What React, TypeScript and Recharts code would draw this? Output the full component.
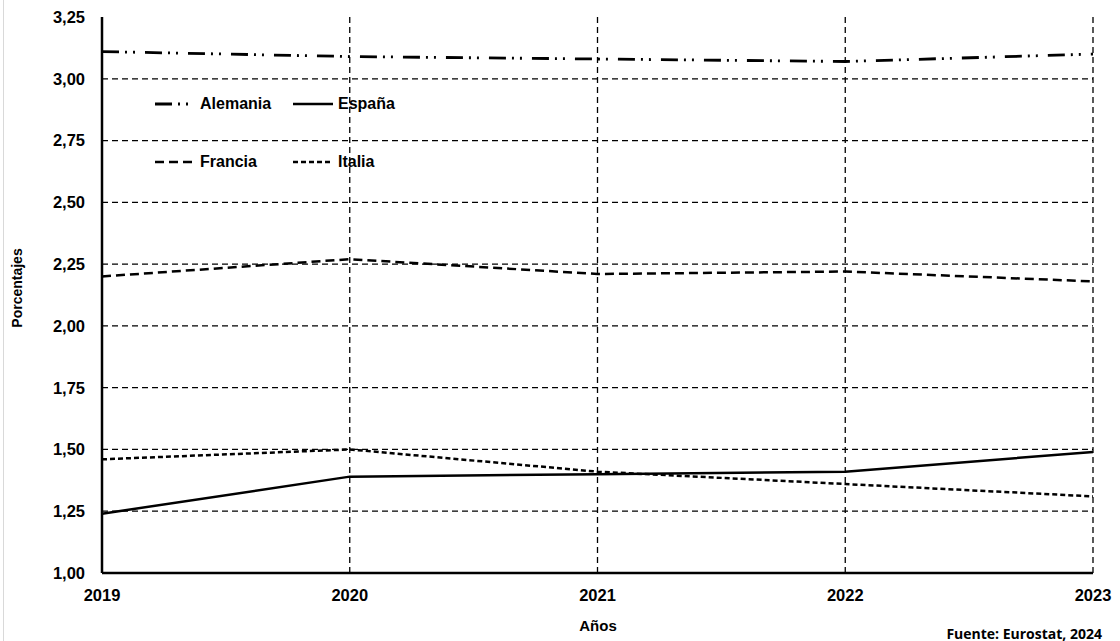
import React from "react";
import { LineChart, Line, XAxis, YAxis, ReferenceLine } from "recharts";

// Gasto en I+D sobre el PIB (%)
const years = [2019, 2020, 2021, 2022, 2023];
const alemania = [3.11, 3.09, 3.08, 3.07, 3.1];
const espana = [1.24, 1.39, 1.4, 1.41, 1.49];
const francia = [2.2, 2.27, 2.21, 2.22, 2.18];
const italia = [1.46, 1.5, 1.41, 1.36, 1.31];

const yTicks = [1, 1.25, 1.5, 1.75, 2, 2.25, 2.5, 2.75, 3, 3.25];
const hGrid = [1.25, 1.5, 1.75, 2, 2.25, 2.5, 2.75, 3];
const vGrid = [2020, 2021, 2022, 2023];

const data = years.map((year, i) => ({
  year,
  Alemania: alemania[i],
  España: espana[i],
  Francia: francia[i],
  Italia: italia[i],
}));

const series = [
  { key: "Alemania", dash: "17 6 2 6 2 10", width: 2.8 },
  { key: "España", dash: undefined, width: 2.5 },
  { key: "Francia", dash: "9 5", width: 2.5 },
  { key: "Italia", dash: "5 3", width: 2.5 },
];

const font = "'Liberation Sans', Arial, sans-serif";
const fmt = (v: number) => v.toFixed(2).replace(".", ",");

function LegendBox() {
  return (
    <div
      style={{
        position: "absolute",
        left: 155,
        top: 94,
        display: "grid",
        gridTemplateColumns: "138px 120px",
        rowGap: 38,
        fontFamily: font,
        fontWeight: 700,
        fontSize: 16,
        lineHeight: "20px",
      }}
    >
      {series.map((s) => (
        <div key={s.key} style={{ display: "flex", alignItems: "center" }}>
          <svg width={45} height={10}>
            <line
              x1={0}
              x2={40}
              y1={5}
              y2={5}
              stroke="#000"
              strokeWidth={s.width}
              strokeDasharray={s.dash}
            />
          </svg>
          <span>{s.key}</span>
        </div>
      ))}
    </div>
  );
}

export default function App() {
  return (
    <div
      style={{
        position: "absolute",
        left: 0,
        top: 0,
        width: 1120,
        height: 641,
        background: "#fff",
        fontFamily: font,
      }}
    >
      <div
        style={{
          position: "absolute",
          left: 3,
          top: 0,
          width: 1,
          height: 641,
          background: "#d9d9d9",
        }}
      />
      <LineChart
        width={1120}
        height={641}
        data={data}
        margin={{ top: 17, right: 27, left: 0, bottom: 38 }}
      >
        {hGrid.map((v) => (
          <ReferenceLine
            key={"h" + v}
            y={v}
            stroke="#000"
            strokeWidth={1.3}
            strokeDasharray="6 4"
          />
        ))}
        {vGrid.map((v) => (
          <ReferenceLine
            key={"v" + v}
            x={v}
            stroke="#000"
            strokeWidth={1.3}
            strokeDasharray="6 4"
          />
        ))}
        <XAxis
          dataKey="year"
          type="number"
          domain={[2019, 2023]}
          ticks={years}
          height={30}
          tickSize={0}
          tickMargin={16}
          axisLine={{ stroke: "#000", strokeWidth: 2.5 }}
          tick={{ fill: "#000", fontSize: 16.5, fontWeight: 700, fontFamily: font }}
        />
        <YAxis
          domain={[1, 3.25]}
          ticks={yTicks}
          width={102}
          tickSize={0}
          tickMargin={17}
          tickFormatter={fmt}
          axisLine={{ stroke: "#000", strokeWidth: 2.5 }}
          tick={{ fill: "#000", fontSize: 16.5, fontWeight: 700, fontFamily: font }}
        />
        {series.map((s) => (
          <Line
            key={s.key}
            dataKey={s.key}
            type="linear"
            stroke="#000"
            strokeWidth={s.width}
            strokeDasharray={s.dash}
            dot={false}
            activeDot={false}
            isAnimationActive={false}
          />
        ))}
      </LineChart>
      <LegendBox />
      <div
        style={{
          position: "absolute",
          left: 17,
          top: 288,
          transform: "translate(-50%, -50%) rotate(-90deg)",
          fontSize: 14,
          fontWeight: 700,
          whiteSpace: "nowrap",
        }}
      >
        Porcentajes
      </div>
      <div
        style={{
          position: "absolute",
          left: 598,
          top: 625,
          transform: "translate(-50%, -50%)",
          fontSize: 15,
          fontWeight: 700,
        }}
      >
        Años
      </div>
      <div
        style={{
          position: "absolute",
          right: 18,
          top: 633,
          transform: "translateY(-50%)",
          fontFamily: "'Open Sans', sans-serif",
          fontSize: 14,
          fontWeight: 700,
          whiteSpace: "nowrap",
        }}
      >
        Fuente: Eurostat, 2024
      </div>
    </div>
  );
}
